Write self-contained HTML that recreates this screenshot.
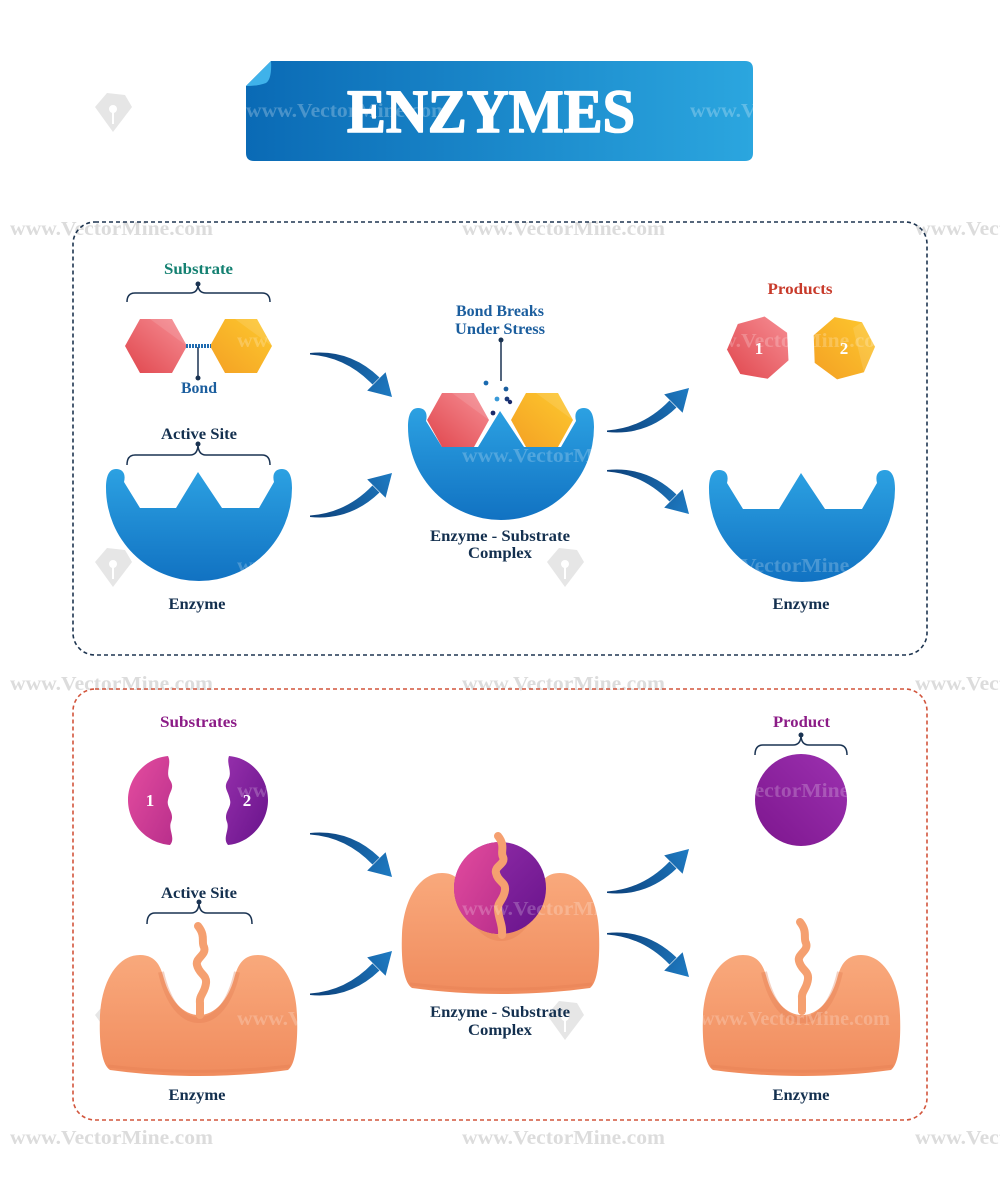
<!DOCTYPE html>
<html><head><meta charset="utf-8"><style>
html,body{margin:0;padding:0;background:#fff;}
svg{display:block;}
text{font-family:"Liberation Serif",serif;font-weight:bold;}
</style></head><body>
<svg width="1000" height="1194" viewBox="0 0 1000 1194" xmlns="http://www.w3.org/2000/svg">
<defs>
<linearGradient id="gBan" x1="0" y1="0" x2="1" y2="0"><stop offset="0" stop-color="#0a6ab5"/><stop offset="1" stop-color="#2ba6df"/></linearGradient>
<linearGradient id="gBlue" x1="0" y1="0" x2="0" y2="1"><stop offset="0" stop-color="#2ca1e2"/><stop offset="1" stop-color="#1172c2"/></linearGradient>
<linearGradient id="gOr" x1="0" y1="0" x2="0" y2="1"><stop offset="0" stop-color="#f9a97c"/><stop offset="1" stop-color="#f08c5e"/></linearGradient>
<linearGradient id="gArr" gradientUnits="userSpaceOnUse" x1="0" y1="0" x2="82" y2="44"><stop offset="0" stop-color="#0c3f78"/><stop offset="1" stop-color="#1e7bc3"/></linearGradient>
<linearGradient id="gRed" x1="0" y1="1" x2="1" y2="0"><stop offset="0" stop-color="#e0464d"/><stop offset="1" stop-color="#f68e94"/></linearGradient>
<linearGradient id="gYel" x1="0" y1="1" x2="1" y2="0"><stop offset="0" stop-color="#f4a024"/><stop offset="1" stop-color="#fdc92e"/></linearGradient>
<linearGradient id="gPink" x1="0" y1="0" x2="1" y2="1"><stop offset="0" stop-color="#e54d9f"/><stop offset="1" stop-color="#b92f8c"/></linearGradient>
<linearGradient id="gPur" x1="0" y1="0" x2="1" y2="1"><stop offset="0" stop-color="#952fab"/><stop offset="1" stop-color="#68138b"/></linearGradient>
<linearGradient id="gProd" x1="1" y1="0" x2="0" y2="1"><stop offset="0" stop-color="#9c31b0"/><stop offset="1" stop-color="#7d168e"/></linearGradient>
<g id="arr" fill="url(#gArr)">
<path d="M0,0 Q40,-4 69.5,24.5 L62.5,31.5 Q36,4 0,1.5 Z"/>
<polygon points="75.6,19.2 82,44 57.2,37.6"/>
</g>
<path id="bEnz" fill="url(#gBlue)" d="M106,488 C106,476 109,469 116,469 C123,469 126,474 124,482 L140,508 L176,508 L198,472 L222,508 L259,508 L274,482 C272,474 275,469 282,469 C289,469 292,476 292,488 A93 93 0 0 1 106,488 Z"/>
<g id="oEnz">
<path fill="url(#gOr)" d="M110,1070 C101,1064 99,1040 100,1015 C102,980 118,955 140,955 C157,955 161,968 164,979 C170,1000 183,1015 199,1015 C215,1015 228,1000 234,979 C237,968 241,955 258,955 C280,955 296,980 297,1015 C298,1040 296,1064 288,1070 C230,1078 168,1078 110,1070 Z"/>
<path fill="none" stroke="#e27b50" stroke-width="6" stroke-opacity="0.35" d="M161,972 C168,1003 182,1020 199,1020 C216,1020 230,1003 237,972"/>
<path fill="none" stroke="#e27b50" stroke-width="3" stroke-opacity="0.3" d="M108,1066 C168,1073 230,1073 290,1066"/>
</g>
<path id="strand" fill="none" stroke="#f5a070" stroke-width="8" stroke-linecap="round" d="M198,926 C206,936 201,942 204,947 C207,955 195,958 197,965 C199,974 207,975 206,983 C205,993 199,995 200,1003 L200,1015"/>
<g id="pen"><polygon points="0,14 12,0 30,2 37,14 18,39" fill="#e6e6e6"/><circle cx="18" cy="16" r="4" fill="#fff"/><rect x="17" y="18" width="2" height="13" fill="#fff"/></g>
<clipPath id="cBan"><path d="M271,61 L745,61 Q753,61 753,69 L753,153 Q753,161 745,161 L254,161 Q246,161 246,153 L246,86 Z"/></clipPath>
<clipPath id="cCirc"><circle cx="500" cy="888" r="46"/></clipPath>
</defs>

<!-- gray watermark rows -->
<g font-size="20" fill="#dcdcdc">
<text x="10" y="235" textLength="203" lengthAdjust="spacingAndGlyphs">www.VectorMine.com</text>
<text x="462" y="235" textLength="203" lengthAdjust="spacingAndGlyphs">www.VectorMine.com</text>
<text x="915" y="235" textLength="203" lengthAdjust="spacingAndGlyphs">www.VectorMine.com</text>
<text x="10" y="690" textLength="203" lengthAdjust="spacingAndGlyphs">www.VectorMine.com</text>
<text x="462" y="690" textLength="203" lengthAdjust="spacingAndGlyphs">www.VectorMine.com</text>
<text x="915" y="690" textLength="203" lengthAdjust="spacingAndGlyphs">www.VectorMine.com</text>
<text x="10" y="1144" textLength="203" lengthAdjust="spacingAndGlyphs">www.VectorMine.com</text>
<text x="462" y="1144" textLength="203" lengthAdjust="spacingAndGlyphs">www.VectorMine.com</text>
<text x="915" y="1144" textLength="203" lengthAdjust="spacingAndGlyphs">www.VectorMine.com</text>
</g>
<use href="#pen" transform="translate(95,93)"/>
<use href="#pen" transform="translate(95,548)"/>
<use href="#pen" transform="translate(547,548)"/>
<use href="#pen" transform="translate(95,1001)"/>
<use href="#pen" transform="translate(547,1001)"/>

<!-- banner -->
<path fill="url(#gBan)" d="M271,61 L745,61 Q753,61 753,69 L753,153 Q753,161 745,161 L254,161 Q246,161 246,153 L246,86 Z"/>
<path fill="#3fb2ea" d="M246,86 L271,61 Q272,79 266,83 Q258,86 246,86 Z"/>
<g clip-path="url(#cBan)" font-size="20" fill="#fff" fill-opacity="0.25">
<text x="246" y="117" textLength="203" lengthAdjust="spacingAndGlyphs">www.VectorMine.com</text>
<text x="690" y="117" textLength="203" lengthAdjust="spacingAndGlyphs">www.VectorMine.com</text>
</g>
<text x="491" y="132" text-anchor="middle" font-size="61" textLength="288" lengthAdjust="spacingAndGlyphs" fill="#fff" stroke="#fff" stroke-width="1.6" stroke-linejoin="round">ENZYMES</text>

<!-- boxes -->
<rect x="73" y="222" width="854" height="433" rx="22" fill="none" stroke="#1e3550" stroke-width="1.6" stroke-dasharray="4 3"/>
<rect x="73" y="689" width="854" height="431" rx="22" fill="none" stroke="#d2553c" stroke-width="1.6" stroke-dasharray="4 3"/>

<!-- ===== TOP SECTION ===== -->
<g font-size="16">
<text x="198.5" y="274" text-anchor="middle" fill="#138071" textLength="69" lengthAdjust="spacingAndGlyphs">Substrate</text>
<text x="199" y="393" text-anchor="middle" fill="#1b5e9e" textLength="36" lengthAdjust="spacingAndGlyphs">Bond</text>
<text x="199" y="439" text-anchor="middle" fill="#14304f" textLength="76" lengthAdjust="spacingAndGlyphs">Active Site</text>
<text x="197" y="609" text-anchor="middle" fill="#14304f" textLength="57" lengthAdjust="spacingAndGlyphs">Enzyme</text>
<text x="500" y="316" text-anchor="middle" fill="#1b5e9e" textLength="88" lengthAdjust="spacingAndGlyphs">Bond Breaks</text>
<text x="500" y="334" text-anchor="middle" fill="#1b5e9e" textLength="90" lengthAdjust="spacingAndGlyphs">Under Stress</text>
<text x="500" y="541" text-anchor="middle" fill="#14304f" textLength="140" lengthAdjust="spacingAndGlyphs">Enzyme - Substrate</text>
<text x="500" y="558" text-anchor="middle" fill="#14304f" textLength="64" lengthAdjust="spacingAndGlyphs">Complex</text>
<text x="800" y="294" text-anchor="middle" fill="#c83a2a" textLength="65" lengthAdjust="spacingAndGlyphs">Products</text>
<text x="801" y="609" text-anchor="middle" fill="#14304f" textLength="57" lengthAdjust="spacingAndGlyphs">Enzyme</text>
</g>

<!-- braces -->
<g fill="none" stroke="#1a3352" stroke-width="1.5">
<path d="M127,302 Q127,293 135,293 L190,293 Q198,293 198,284 Q198,293 206,293 L262,293 Q270,293 270,302"/>
<path d="M127,465 Q127,455 135,455 L190,455 Q198,455 198,444 Q198,455 206,455 L262,455 Q270,455 270,465"/>
<path d="M147,924 Q147,913 155,913 L191,913 Q199,913 199,902 Q199,913 207,913 L244,913 Q252,913 252,924"/>
<path d="M755,755 Q755,745 763,745 L793,745 Q801,745 801,735 Q801,745 809,745 L839,745 Q847,745 847,755"/>
<line x1="198" y1="347" x2="198" y2="377"/>
<line x1="501" y1="340" x2="501" y2="381"/>
</g>
<g fill="#1a3352">
<circle cx="198" cy="284" r="2.5"/><circle cx="198" cy="444" r="2.5"/>
<circle cx="199" cy="902" r="2.5"/><circle cx="801" cy="735" r="2.5"/>
<circle cx="198" cy="378" r="2.5"/><circle cx="501" cy="340" r="2.5"/>
</g>

<!-- substrate hexagons -->
<polygon fill="url(#gRed)" points="125,346 140,319 172,319 187,346 172,373 140,373"/>
<polygon fill="#fff" fill-opacity="0.12" points="140,319 172,319 187,346 150,319"/>
<polygon fill="url(#gYel)" points="210,346 225,319 257,319 272,346 257,373 225,373"/>
<polygon fill="#fff" fill-opacity="0.12" points="225,319 257,319 272,346 235,319"/>
<line x1="186" y1="346" x2="211" y2="346" stroke="#1f6bb0" stroke-width="4" stroke-dasharray="2 1"/>

<!-- enzymes blue -->
<use href="#bEnz"/>
<use href="#bEnz" transform="translate(302,-61)"/>
<use href="#bEnz" transform="translate(603,1)"/>

<!-- complex hexagons -->
<polygon fill="url(#gRed)" points="427,420 442,393 474,393 489,420 474,447 442,447"/>
<polygon fill="#fff" fill-opacity="0.12" points="442,393 474,393 489,420 452,393"/>
<polygon fill="url(#gYel)" points="511,420 526,393 558,393 573,420 558,447 526,447"/>
<polygon fill="#fff" fill-opacity="0.12" points="526,393 558,393 573,420 536,393"/>
<circle cx="486" cy="383" r="2.4" fill="#1a6ab0"/>
<circle cx="506" cy="389" r="2.4" fill="#1a5e9e"/>
<circle cx="497" cy="399" r="2.4" fill="#3a9ad8"/>
<circle cx="507" cy="399" r="2.4" fill="#1a3a7a"/>
<circle cx="510" cy="402" r="2.2" fill="#1a2a6a"/>
<circle cx="493" cy="413" r="2.4" fill="#1a2a6a"/>

<!-- products heptagons -->
<polygon fill="url(#gRed)" transform="translate(759,348)" points="5.6,-31.5 28.1,-15.3 29.5,12.4 8.7,30.8 -18.7,26 -32,1.6 -21.2,-24"/>
<polygon fill="url(#gYel)" transform="translate(843,348)" points="-8.3,-30.9 19,-25.7 32,-1.2 20.9,24.2 -5.9,31.4 -28.3,14.9 -29.3,-12.8"/>
<polygon fill="#fff" fill-opacity="0.12" transform="translate(843,348)" points="19,-25.7 32,-1.2 20.9,24.2 10,-20"/>
<g font-size="17" fill="#fff">
<text x="759" y="354" text-anchor="middle">1</text>
<text x="844" y="354" text-anchor="middle">2</text>
</g>

<!-- arrows top -->
<use href="#arr" transform="translate(310,353)"/>
<use href="#arr" transform="translate(310,517) scale(1,-1)"/>
<use href="#arr" transform="translate(607,432) scale(1,-1)"/>
<use href="#arr" transform="translate(607,470)"/>

<!-- ===== BOTTOM SECTION ===== -->
<g font-size="16">
<text x="198.5" y="727" text-anchor="middle" fill="#8c1c87" textLength="77" lengthAdjust="spacingAndGlyphs">Substrates</text>
<text x="199" y="898" text-anchor="middle" fill="#14304f" textLength="76" lengthAdjust="spacingAndGlyphs">Active Site</text>
<text x="197" y="1100" text-anchor="middle" fill="#14304f" textLength="57" lengthAdjust="spacingAndGlyphs">Enzyme</text>
<text x="500" y="1017" text-anchor="middle" fill="#14304f" textLength="140" lengthAdjust="spacingAndGlyphs">Enzyme - Substrate</text>
<text x="500" y="1035" text-anchor="middle" fill="#14304f" textLength="64" lengthAdjust="spacingAndGlyphs">Complex</text>
<text x="801.5" y="727" text-anchor="middle" fill="#8c1c87" textLength="57" lengthAdjust="spacingAndGlyphs">Product</text>
<text x="801" y="1100" text-anchor="middle" fill="#14304f" textLength="57" lengthAdjust="spacingAndGlyphs">Enzyme</text>
</g>

<!-- substrates -->
<path fill="url(#gPink)" d="M168,756 C145,758 128,778 128,800 C128,823 146,843 170,845 C176,838 168,830 171,822 C175,812 166,808 168,800 C170,790 175,788 170,780 C165,772 172,764 168,756 Z"/>
<path fill="url(#gPur)" d="M229,756 C252,758 268,778 268,800 C268,823 250,843 228,845 C222,838 230,830 227,822 C223,812 232,808 230,800 C228,790 223,788 228,780 C233,772 226,764 229,756 Z"/>
<g font-size="17" fill="#fff">
<text x="150" y="806" text-anchor="middle">1</text>
<text x="247" y="806" text-anchor="middle">2</text>
</g>

<!-- product -->
<circle cx="801" cy="800" r="46" fill="url(#gProd)"/>

<!-- orange enzymes -->
<use href="#oEnz"/>
<use href="#strand"/>
<use href="#oEnz" transform="translate(302,-82)"/>
<use href="#oEnz" transform="translate(603,0)"/>
<use href="#strand" transform="translate(602,-4)"/>

<!-- complex circle -->
<circle cx="500" cy="888" r="46" fill="url(#gPur)"/>
<path clip-path="url(#cCirc)" fill="url(#gPink)" d="M450,838 L498,838 C506,848 500,852 503,857 C506,864 494,866 496,873 C498,882 506,882 505,890 C504,900 497,902 498,910 C499,920 503,925 502,934 L450,934 Z"/>
<path fill="none" stroke="#f5a070" stroke-width="8" stroke-linecap="round" d="M498,836 C506,846 500,852 503,857 C506,864 494,866 496,873 C498,882 506,882 505,890 C504,900 497,902 498,910 C499,920 503,925 502,935"/>

<!-- arrows bottom -->
<use href="#arr" transform="translate(310,833)"/>
<use href="#arr" transform="translate(310,995) scale(1,-1)"/>
<use href="#arr" transform="translate(607,893) scale(1,-1)"/>
<use href="#arr" transform="translate(607,933)"/>

<!-- faint white watermarks over shapes -->
<g font-size="20" fill="#fff" fill-opacity="0.22">
<text x="237" y="347" textLength="203" lengthAdjust="spacingAndGlyphs">www.VectorMine.com</text>
<text x="690" y="347" textLength="203" lengthAdjust="spacingAndGlyphs">www.VectorMine.com</text>
<text x="462" y="462" textLength="203" lengthAdjust="spacingAndGlyphs">www.VectorMine.com</text>
<text x="237" y="572" textLength="203" lengthAdjust="spacingAndGlyphs">www.VectorMine.com</text>
<text x="690" y="572" textLength="203" lengthAdjust="spacingAndGlyphs">www.VectorMine.com</text>
<text x="237" y="797" textLength="203" lengthAdjust="spacingAndGlyphs">www.VectorMine.com</text>
<text x="690" y="797" textLength="203" lengthAdjust="spacingAndGlyphs">www.VectorMine.com</text>
<text x="462" y="915" textLength="203" lengthAdjust="spacingAndGlyphs">www.VectorMine.com</text>
<text x="237" y="1025" textLength="203" lengthAdjust="spacingAndGlyphs">www.VectorMine.com</text>
<text x="700" y="1025" textLength="190" lengthAdjust="spacingAndGlyphs">www.VectorMine.com</text>
</g>
</svg>
</body></html>
